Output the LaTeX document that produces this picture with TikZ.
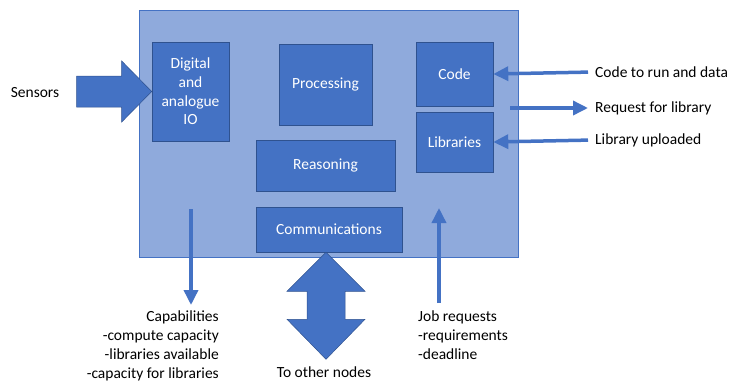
\documentclass[tikz,border=0pt]{standalone}
\usepackage{fontspec}
\setmainfont{Carlito}
\usetikzlibrary{arrows.meta}
\definecolor{boxblue}{RGB}{68,114,196}
\definecolor{edgeblue}{RGB}{47,82,143}
\definecolor{boardblue}{RGB}{143,170,220}
\newcommand{\textsize}{\fontsize{15.5}{18.7}\selectfont}
\tikzset{
    board/.style={draw=boxblue, fill=boardblue, line width=0.8pt, minimum width=379pt, minimum height=247pt},
    unit/.style={draw=edgeblue, fill=boxblue, text=white, align=center, font=\textsize, inner sep=0pt, line width=0.6pt},
    note/.style={font=\textsize, inner sep=2pt},
    flow/.style={draw=boxblue, line width=3.5pt, -{Triangle[length=15pt,width=14pt]}},
    bigarrow/.style={fill=boxblue, draw=edgeblue, line width=0.5pt}
}

\begin{document}
\begin{tikzpicture}[x=1pt, y=-1pt]
    \useasboundingbox (0,0) rectangle (731,381);
    \node[board] (node) at (328.5,133.5) {};

    \node[unit, minimum width=77pt, minimum height=99pt] (io) at (190.5,91.5) {Digital\\and\\analogue\\IO};
    \node[unit, minimum width=93pt, minimum height=81pt] (proc) at (325.5,84.5) {Processing};
    \node[unit, minimum width=77pt, minimum height=64pt] (code) at (454.5,74) {Code};
    \node[unit, minimum width=77pt, minimum height=60pt] (libs) at (454.5,142) {Libraries};
    \node[unit, minimum width=139pt, minimum height=51pt] (reason) at (325.5,165.5) {Reasoning};
    \node[unit, minimum width=146pt, minimum height=45pt] (comm) at (329,229.5) {Communications};

    \node[note] (sensors) at (35,93) {Sensors};
    \node[note, anchor=west] (codetxt) at (593,72) {Code to run and data};
    \node[note, anchor=west] (reqtxt) at (593,108) {Request for library};
    \node[note, anchor=west] (libtxt) at (593,140) {Library uploaded};
    \node[note, anchor=north east, align=right] (caps) at (221,309) {Capabilities\\-compute capacity\\-libraries available\\-capacity for libraries};
    \node[note, anchor=north west, align=left] (jobs) at (416,309) {Job requests\\-requirements\\-deadline};
    \node[note] (others) at (324,372) {To other nodes};

    \coordinate (reqstart) at (510,108);
    \coordinate (capstart) at (191,209);
    \coordinate (capend) at (191,305);
    \coordinate (jobstart) at (439,303);
    \coordinate (jobend) at (439,208);

    \fill[bigarrow] (io.west) -- ++(-30,-30.5) -- ++(0,15) -- ++(-45,0) -- ++(0,31) -- ++(45,0) -- ++(0,15) -- cycle;
    \fill[bigarrow] ([xshift=-3pt]comm.south) -- ++(39,39) -- ++(-20,0) -- ++(0,28) -- ++(20,0) -- ++(-39,40)
        -- ++(-39,-40) -- ++(20,0) -- ++(0,-28) -- ++(-20,0) -- cycle;

    \draw[flow, shorten <=5pt] (codetxt.west) -- (code.east);
    \draw[flow, shorten >=5pt] (reqstart) -- (reqtxt.west);
    \draw[flow, shorten <=5pt] (libtxt.west) -- (libs.east);
    \draw[flow] (capstart) -- (capend);
    \draw[flow] (jobstart) -- (jobend);
\end{tikzpicture}
\end{document}
